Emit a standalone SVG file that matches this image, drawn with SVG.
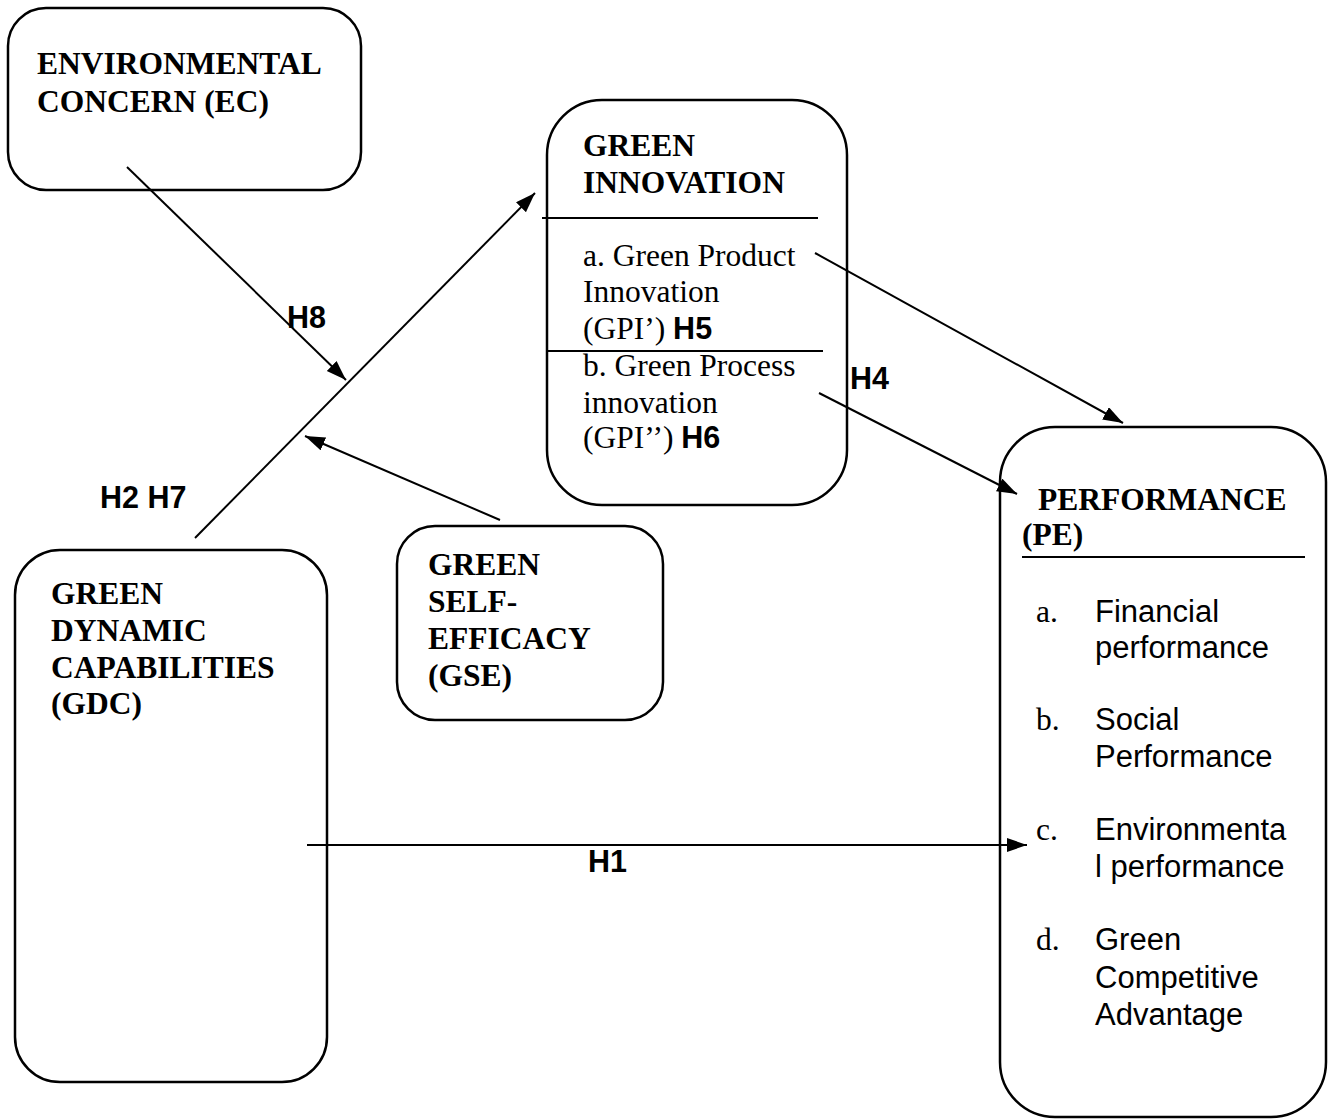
<svg xmlns="http://www.w3.org/2000/svg" width="1330" height="1120" viewBox="0 0 1330 1120">
<style>
.box{fill:#fff;stroke:#000;stroke-width:2.5}
.sep{stroke:#000;stroke-width:2}
.t{font-family:"Liberation Serif","Times New Roman",serif;font-size:31.5px;fill:#000}
.b{font-weight:bold}
.s{font-family:"Liberation Sans",Arial,sans-serif;font-size:31px;fill:#000}
.h{font-family:"Liberation Sans",Arial,sans-serif;font-size:30.5px;font-weight:bold;fill:#000}
.c{fill:none;stroke:#000;stroke-width:2;marker-end:url(#ah)}
</style>
<defs>
<marker id="ah" markerUnits="userSpaceOnUse" markerWidth="22" markerHeight="16" refX="20" refY="7" orient="auto">
<path d="M0,0 L20,7 L0,14 z" fill="#000"/>
</marker>
</defs>
<rect width="1330" height="1120" fill="#fff"/>
<g id="ec">
<rect class="box" x="8" y="8" width="353" height="182" rx="38"/>
<text class="t b" x="37" y="74">ENVIRONMENTAL</text>
<text class="t b" x="37" y="112">CONCERN (EC)</text>
</g>
<g id="gi">
<rect class="box" x="547" y="100" width="300" height="405" rx="55"/>
<text class="t b" x="583" y="156">GREEN</text>
<text class="t b" x="583" y="193">INNOVATION</text>
<line class="sep" x1="542" y1="218" x2="818" y2="218"/>
<text class="t" x="583" y="266">a. Green Product</text>
<text class="t" x="583" y="302">Innovation</text>
<text class="t" x="583" y="339">(GPI’) <tspan class="h">H5</tspan></text>
<line class="sep" x1="547" y1="351" x2="823" y2="351"/>
<text class="t" x="583" y="376">b. Green Process</text>
<text class="t" x="583" y="413">innovation</text>
<text class="t" x="583" y="448">(GPI’’) <tspan class="h">H6</tspan></text>
</g>
<g id="pe">
<rect class="box" x="1000" y="427" width="326" height="690" rx="55"/>
<text class="t b" x="1038" y="510">PERFORMANCE</text>
<text class="t b" x="1022" y="545">(PE)</text>
<line class="sep" x1="1022" y1="557" x2="1305" y2="557"/>
<text class="t" x="1036" y="622">a.</text>
<text class="s" x="1095" y="622">Financial</text>
<text class="s" x="1095" y="658">performance</text>
<text class="t" x="1036" y="730">b.</text>
<text class="s" x="1095" y="730">Social</text>
<text class="s" x="1095" y="767">Performance</text>
<text class="t" x="1036" y="840">c.</text>
<text class="s" x="1095" y="840">Environmenta</text>
<text class="s" x="1095" y="877">l performance</text>
<text class="t" x="1036" y="950">d.</text>
<text class="s" x="1095" y="950">Green</text>
<text class="s" x="1095" y="988">Competitive</text>
<text class="s" x="1095" y="1025">Advantage</text>
</g>
<g id="gdc">
<rect class="box" x="15" y="550" width="312" height="532" rx="45"/>
<text class="t b" x="51" y="604">GREEN</text>
<text class="t b" x="51" y="641">DYNAMIC</text>
<text class="t b" x="51" y="678">CAPABILITIES</text>
<text class="t b" x="51" y="714">(GDC)</text>
</g>
<g id="gse">
<rect class="box" x="397" y="526" width="266" height="194" rx="38"/>
<text class="t b" x="428" y="575">GREEN</text>
<text class="t b" x="428" y="612">SELF-</text>
<text class="t b" x="428" y="649">EFFICACY</text>
<text class="t b" x="428" y="686">(GSE)</text>
</g>
<g id="connectors">
<line class="c" x1="127" y1="167" x2="346" y2="380"/>
<line class="c" x1="195" y1="538" x2="535" y2="193"/>
<line class="c" x1="500" y1="520" x2="305" y2="436"/>
<line class="c" x1="815" y1="253" x2="1123" y2="423"/>
<line class="c" x1="819" y1="393" x2="1017" y2="494"/>
<line class="c" x1="307" y1="845" x2="1027" y2="845"/>
</g>
<g id="labels">
<text class="h" x="287" y="328">H8</text>
<text class="h" x="850" y="389">H4</text>
<text class="h" x="100" y="508">H2 H7</text>
<text class="h" x="588" y="872">H1</text>
</g>
</svg>
